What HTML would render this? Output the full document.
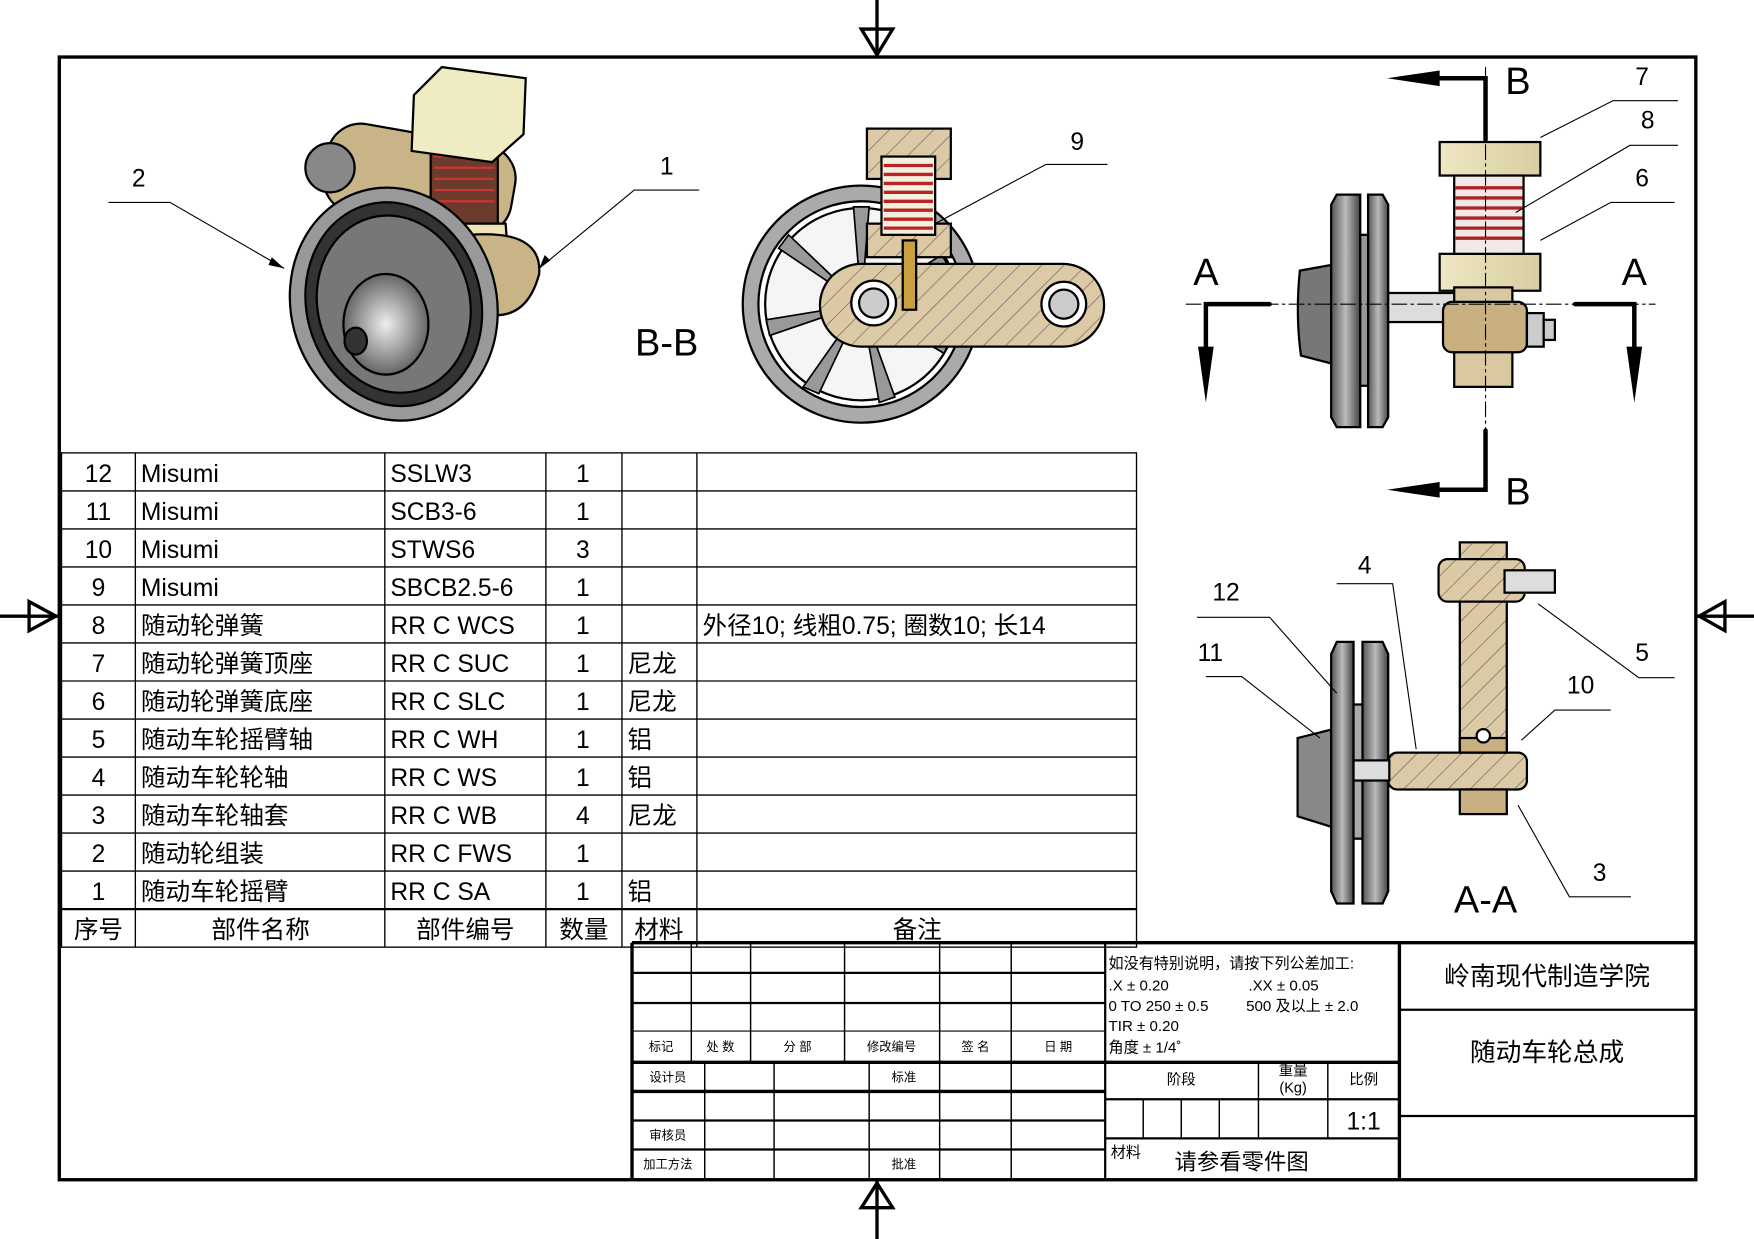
<!DOCTYPE html>
<html><head><meta charset="utf-8"><style>
html,body{margin:0;padding:0;background:#fff;}
svg{display:block;font-family:"Liberation Sans","Noto Sans CJK SC",sans-serif;}
</style></head><body>
<svg width="1754" height="1239" viewBox="0 0 1568 1108" preserveAspectRatio="none" xmlns="http://www.w3.org/2000/svg">
<defs>
<pattern id="h" width="14" height="14" patternUnits="userSpaceOnUse" patternTransform="rotate(45)">
<rect width="14" height="14" fill="#dcc9a6"/><line x1="0" y1="0" x2="0" y2="14" stroke="#555" stroke-width="1"/></pattern>
<linearGradient id="g1" x1="0" x2="1"><stop offset="0" stop-color="#555"/><stop offset=".5" stop-color="#bbb"/><stop offset="1" stop-color="#444"/></linearGradient>
<linearGradient id="g2" x1="0" x2="1"><stop offset="0" stop-color="#efe7c3"/><stop offset="1" stop-color="#d8cda0"/></linearGradient>
<radialGradient id="g3"><stop offset="0" stop-color="#eee"/><stop offset="1" stop-color="#666"/></radialGradient>
</defs>
<rect width="1568" height="1108" fill="#fff"/>
<!-- border -->
<rect x="53" y="51" width="1463" height="1004" fill="none" stroke="#000" stroke-width="3"/>
<!-- centering marks -->
<g stroke="#000" stroke-width="3" fill="none">
<line x1="784" y1="0" x2="784" y2="51"/><polygon points="770,26 798,26 784,49"/>
<line x1="784" y1="1055" x2="784" y2="1108"/><polygon points="770,1080 798,1080 784,1058"/>
<line x1="0" y1="551" x2="53" y2="551"/><polygon points="26,538 26,564 50,551"/>
<line x1="1516" y1="551" x2="1568" y2="551"/><polygon points="1542,538 1542,564 1519,551"/>
</g>

<!-- BOM table -->
<g stroke="#000" stroke-width="1.2" fill="none">
<rect x="55" y="405" width="961" height="442"/>
<line x1="55" y1="439" x2="1016" y2="439"/><line x1="55" y1="473" x2="1016" y2="473"/>
<line x1="55" y1="507" x2="1016" y2="507"/><line x1="55" y1="541" x2="1016" y2="541"/>
<line x1="55" y1="575" x2="1016" y2="575"/><line x1="55" y1="609" x2="1016" y2="609"/>
<line x1="55" y1="643" x2="1016" y2="643"/><line x1="55" y1="677" x2="1016" y2="677"/>
<line x1="55" y1="711" x2="1016" y2="711"/><line x1="55" y1="745" x2="1016" y2="745"/>
<line x1="55" y1="779" x2="1016" y2="779"/><line x1="55" y1="813" x2="1016" y2="813" stroke-width="2"/>
<line x1="121" y1="405" x2="121" y2="847"/><line x1="344" y1="405" x2="344" y2="847"/>
<line x1="488" y1="405" x2="488" y2="847"/><line x1="556" y1="405" x2="556" y2="847"/>
<line x1="623" y1="405" x2="623" y2="847"/>
</g>
<g font-size="22" fill="#000">
<g text-anchor="middle">
<text x="88" y="431">12</text><text x="88" y="465">11</text><text x="88" y="499">10</text><text x="88" y="533">9</text>
<text x="88" y="567">8</text><text x="88" y="601">7</text><text x="88" y="635">6</text><text x="88" y="669">5</text>
<text x="88" y="703">4</text><text x="88" y="737">3</text><text x="88" y="771">2</text><text x="88" y="805">1</text>
<text x="521" y="431">1</text><text x="521" y="465">1</text><text x="521" y="499">3</text><text x="521" y="533">1</text>
<text x="521" y="567">1</text><text x="521" y="601">1</text><text x="521" y="635">1</text><text x="521" y="669">1</text>
<text x="521" y="703">1</text><text x="521" y="737">4</text><text x="521" y="771">1</text><text x="521" y="805">1</text>
<text x="88" y="839">序号</text><text x="233" y="839">部件名称</text><text x="416" y="839">部件编号</text>
<text x="522" y="839">数量</text><text x="589" y="839">材料</text><text x="820" y="839">备注</text>
</g>
<text x="126" y="431">Misumi</text><text x="126" y="465">Misumi</text><text x="126" y="499">Misumi</text><text x="126" y="533">Misumi</text>
<text x="126" y="567">随动轮弹簧</text><text x="126" y="601">随动轮弹簧顶座</text><text x="126" y="635">随动轮弹簧底座</text>
<text x="126" y="669">随动车轮摇臂轴</text><text x="126" y="703">随动车轮轮轴</text><text x="126" y="737">随动车轮轴套</text>
<text x="126" y="771">随动轮组装</text><text x="126" y="805">随动车轮摇臂</text>
<text x="349" y="431">SSLW3</text><text x="349" y="465">SCB3-6</text><text x="349" y="499">STWS6</text><text x="349" y="533">SBCB2.5-6</text>
<text x="349" y="567">RR C WCS</text><text x="349" y="601">RR C SUC</text><text x="349" y="635">RR C SLC</text>
<text x="349" y="669">RR C WH</text><text x="349" y="703">RR C WS</text><text x="349" y="737">RR C WB</text>
<text x="349" y="771">RR C FWS</text><text x="349" y="805">RR C SA</text>
<text x="561" y="601">尼龙</text><text x="561" y="635">尼龙</text><text x="561" y="669">铝</text><text x="561" y="703">铝</text>
<text x="561" y="737">尼龙</text><text x="561" y="805">铝</text>
<text x="628" y="567">外径10; 线粗0.75; 圈数10; 长14</text>
</g>

<!-- title block -->
<g stroke="#000" fill="none">
<line x1="565" y1="843" x2="1516" y2="843" stroke-width="3"/>
<line x1="565" y1="843" x2="565" y2="1055" stroke-width="3"/>
<line x1="988" y1="843" x2="988" y2="1055" stroke-width="2"/>
<line x1="1251" y1="843" x2="1251" y2="1055" stroke-width="3"/>
<line x1="565" y1="870" x2="988" y2="870" stroke-width="2"/>
<line x1="565" y1="897" x2="988" y2="897" stroke-width="2"/>
<line x1="565" y1="922" x2="988" y2="922" stroke-width="1"/>
<line x1="565" y1="950" x2="1251" y2="950" stroke-width="3"/>
<line x1="565" y1="976" x2="988" y2="976" stroke-width="3"/>
<line x1="565" y1="1002" x2="988" y2="1002" stroke-width="2"/>
<line x1="565" y1="1028" x2="988" y2="1028" stroke-width="2"/>
<g stroke-width="1.3">
<line x1="618" y1="843" x2="618" y2="950"/><line x1="671" y1="843" x2="671" y2="950"/>
<line x1="755" y1="843" x2="755" y2="950"/><line x1="840" y1="843" x2="840" y2="950"/>
<line x1="904" y1="843" x2="904" y2="950"/>
<line x1="630" y1="950" x2="630" y2="1055"/><line x1="692" y1="950" x2="692" y2="1055"/>
<line x1="777" y1="950" x2="777" y2="1055"/><line x1="840" y1="950" x2="840" y2="1055"/>
<line x1="904" y1="950" x2="904" y2="1055"/>
<line x1="1125" y1="950" x2="1125" y2="1018"/><line x1="1187" y1="950" x2="1187" y2="1018"/>
<line x1="1022" y1="983" x2="1022" y2="1018"/><line x1="1056" y1="983" x2="1056" y2="1018"/><line x1="1090" y1="983" x2="1090" y2="1018"/>
</g>
<line x1="988" y1="983" x2="1251" y2="983" stroke-width="2"/>
<line x1="988" y1="1018" x2="1251" y2="1018" stroke-width="2"/>
<line x1="1251" y1="903" x2="1516" y2="903" stroke-width="2"/>
<line x1="1251" y1="998" x2="1516" y2="998" stroke-width="2"/>
</g>
<g font-size="11" fill="#000" text-anchor="middle">
<text x="591" y="940">标记</text><text x="644" y="940">处 数</text><text x="713" y="940">分 部</text>
<text x="797" y="940">修改编号</text><text x="872" y="940">签 名</text><text x="946" y="940">日 期</text>
<text x="597" y="967">设计员</text><text x="808" y="967">标准</text>
<text x="597" y="1019">审核员</text><text x="597" y="1045">加工方法</text><text x="808" y="1045">批准</text>
<text x="1056" y="970" font-size="13">阶段</text><text x="1156" y="962" font-size="13">重量</text>
<text x="1156" y="977" font-size="13">(Kg)</text><text x="1219" y="970" font-size="13">比例</text>
</g>
<g font-size="13.5" fill="#000">
<text x="991" y="866">如没有特别说明，请按下列公差加工:</text>
<text x="991" y="886">.X ± 0.20</text><text x="1116" y="886">.XX ± 0.05</text>
<text x="991" y="904">0 TO 250 ± 0.5</text><text x="1114" y="904">500 及以上 ± 2.0</text>
<text x="991" y="922">TIR ± 0.20</text><text x="991" y="941">角度 ± 1/4˚</text>
<text x="993" y="1035">材料</text>
</g>
<text x="1050" y="1046" font-size="20">请参看零件图</text>
<text x="1219" y="1010" font-size="22" text-anchor="middle">1:1</text>
<text x="1383" y="881" font-size="23" text-anchor="middle">岭南现代制造学院</text>
<text x="1383" y="949" font-size="23" text-anchor="middle">随动车轮总成</text>

<!-- isometric view -->
<g stroke="#000" stroke-width="2">
<rect x="290" y="120" width="170" height="80" rx="30" fill="#c9b488" transform="rotate(10 375 160)"/>
<circle cx="295" cy="150" r="22" fill="#888"/>
<rect x="385" y="130" width="60" height="70" fill="#6d3b2b"/>
<g stroke="#c33" stroke-width="2"><line x1="388" y1="140" x2="442" y2="140"/><line x1="388" y1="150" x2="442" y2="150"/><line x1="388" y1="160" x2="442" y2="160"/><line x1="388" y1="170" x2="442" y2="170"/><line x1="388" y1="180" x2="442" y2="180"/></g>
<path d="M378 200 L452 200 L455 240 L375 240Z" fill="#efe3b8"/>
<path d="M420 210 Q485 205 482 245 Q470 290 430 280Z" fill="#c9b488"/>
<path d="M370 85 L395 60 L470 70 L468 120 L440 145 L368 135Z" fill="#efebc2"/>
<ellipse cx="352" cy="272" rx="92" ry="105" fill="#999" transform="rotate(-15 352 272)"/>
<ellipse cx="352" cy="272" rx="78" ry="92" fill="#333" transform="rotate(-15 352 272)"/>
<ellipse cx="352" cy="272" rx="68" ry="80" fill="#777" transform="rotate(-15 352 272)"/>
<ellipse cx="345" cy="290" rx="38" ry="45" fill="url(#g3)"/>
<ellipse cx="318" cy="305" rx="10" ry="12" fill="#333"/>
</g>
<g stroke="#000" stroke-width="1" fill="none">
<polyline points="97,181 152,181 254,240"/><polyline points="625,170 567,170 482,240"/>
</g>
<polygon points="254,240 243,230 240,237" fill="#000"/><polygon points="482,240 487,228 492,233" fill="#000"/>
<text x="124" y="167" font-size="22" text-anchor="middle">2</text>
<text x="596" y="156" font-size="22" text-anchor="middle">1</text>

<!-- B-B view -->
<g stroke="#000" stroke-width="2">
<circle cx="770" cy="272" r="106" fill="#aaa"/>
<circle cx="770" cy="272" r="92" fill="#fff"/>
<circle cx="770" cy="272" r="86" fill="#ddd" fill-opacity="0.3"/>
<g fill="#999" stroke-width="1.5">
<polygon points="770,272 763,185 777,185"/><polygon points="770,272 842,228 850,242"/>
<polygon points="770,272 850,302 844,316"/><polygon points="770,272 800,355 786,360"/>
<polygon points="770,272 732,352 718,346"/><polygon points="770,272 688,300 685,286"/>
<polygon points="770,272 696,222 705,210"/>
</g>
<path d="M770 236 L950 236 A37 37 0 0 1 950 310 L770 310 A37 37 0 0 1 770 236Z" fill="url(#h)"/>
<circle cx="781" cy="271" r="20" fill="#fff"/><circle cx="781" cy="271" r="13" fill="#ccc"/>
<circle cx="951" cy="272" r="20" fill="#fff"/><circle cx="951" cy="272" r="13" fill="#ccc"/>
<rect x="775" y="115" width="75" height="45" fill="url(#h)"/>
<rect x="775" y="200" width="75" height="30" fill="url(#h)"/>
<rect x="788" y="140" width="48" height="70" fill="#f4f0e0"/>
<rect x="807" y="215" width="12" height="62" fill="#c9a040"/>
</g>
<g stroke="#b22" stroke-width="3">
<line x1="790" y1="148" x2="834" y2="148"/><line x1="790" y1="156" x2="834" y2="156"/><line x1="790" y1="164" x2="834" y2="164"/>
<line x1="790" y1="172" x2="834" y2="172"/><line x1="790" y1="180" x2="834" y2="180"/><line x1="790" y1="188" x2="834" y2="188"/>
<line x1="790" y1="196" x2="834" y2="196"/><line x1="790" y1="204" x2="834" y2="204"/>
</g>
<polyline points="990,147 935,147 836,200" stroke="#000" fill="none"/>
<text x="963" y="134" font-size="22" text-anchor="middle">9</text>
<text x="596" y="318" font-size="34" text-anchor="middle">B-B</text>

<!-- top-right view -->
<g stroke="#000" stroke-width="2">
<path d="M1162 242 L1190 237 L1190 325 L1163 318 Q1158 282 1162 242Z" fill="#777"/>
<path d="M1190 183 L1195 174 L1216 174 L1216 382 L1195 382 L1190 373Z" fill="url(#g1)"/>
<path d="M1223 174 L1236 174 L1241 183 L1241 373 L1236 382 L1223 382Z" fill="url(#g1)"/>
<rect x1="0" x="1216" y="210" width="7" height="135" fill="#999"/>
<rect x="1241" y="262" width="60" height="26" fill="#ddd"/>
<rect x="1287" y="127" width="90" height="30" fill="url(#g2)"/>
<rect x="1287" y="227" width="90" height="33" fill="url(#g2)"/>
<rect x="1300" y="157" width="62" height="70" fill="#f2e8e8"/>
<path d="M1300 257 L1352 257 L1352 346 L1300 346Z" fill="#d9c8a0"/>
<rect x="1290" y="270" width="75" height="45" fill="#c9b080" rx="8"/>
<rect x="1365" y="280" width="15" height="30" fill="#ccc"/>
<rect x="1380" y="286" width="10" height="18" fill="#ccc"/>
</g>
<g stroke="#a22" stroke-width="3">
<line x1="1301" y1="168" x2="1361" y2="168"/><line x1="1301" y1="177" x2="1361" y2="177"/><line x1="1301" y1="186" x2="1361" y2="186"/>
<line x1="1301" y1="195" x2="1361" y2="195"/><line x1="1301" y1="204" x2="1361" y2="204"/><line x1="1301" y1="213" x2="1361" y2="213"/>
</g>
<g stroke="#000" stroke-width="1" stroke-dasharray="14 3 3 3" fill="none">
<line x1="1328" y1="60" x2="1328" y2="440"/><line x1="1060" y1="272" x2="1480" y2="272"/>
</g>
<g stroke="#000" stroke-width="4" fill="none" stroke-linecap="round">
<polyline points="1285,70 1328,70 1328,125"/><polyline points="1285,438 1328,438 1328,385"/>
<polyline points="1135,272 1078,272 1078,330"/><polyline points="1408,272 1461,272 1461,330"/>
</g>
<g fill="#000">
<polygon points="1240,70 1287,63 1287,77"/><polygon points="1240,438 1287,431 1287,445"/>
<polygon points="1078,360 1071,310 1085,310"/><polygon points="1461,360 1454,310 1468,310"/>
</g>
<g font-size="34" text-anchor="middle">
<text x="1357" y="84">B</text><text x="1357" y="451">B</text><text x="1078" y="255">A</text><text x="1461" y="255">A</text>
</g>
<g stroke="#000" stroke-width="1" fill="none">
<polyline points="1500,90 1442,90 1377,123"/><polyline points="1500,130 1457,130 1355,190"/><polyline points="1497,181 1440,181 1377,215"/>
</g>
<g font-size="22" text-anchor="middle"><text x="1468" y="76">7</text><text x="1473" y="115">8</text><text x="1468" y="167">6</text></g>

<!-- A-A view -->
<g stroke="#000" stroke-width="2">
<path d="M1160 660 L1192 652 L1192 740 L1160 730Z" fill="#888"/>
<path d="M1190 585 L1195 574 L1210 574 L1210 808 L1195 808 L1190 797Z" fill="url(#g1)"/>
<path d="M1218 574 L1236 574 L1241 585 L1241 797 L1236 808 L1218 808Z" fill="url(#g1)"/>
<rect x="1210" y="630" width="8" height="120" fill="#aaa"/>
<rect x="1305" y="485" width="42" height="200" fill="url(#h)"/>
<rect x="1286" y="500" width="77" height="38" rx="8" fill="url(#h)"/>
<rect x="1345" y="510" width="45" height="20" fill="#ddd"/>
<rect x="1241" y="673" width="124" height="33" rx="8" fill="url(#h)"/>
<rect x="1210" y="680" width="32" height="18" fill="#ddd"/>
<rect x="1305" y="660" width="42" height="13" fill="#c9b080"/>
<rect x="1305" y="706" width="42" height="22" fill="#c9b080"/>
<circle cx="1326" cy="658" r="6" fill="#fff"/>
</g>
<g stroke="#000" stroke-width="1" fill="none">
<polyline points="1070,552 1135,552 1195,620"/><polyline points="1078,605 1110,605 1180,660"/>
<polyline points="1195,522 1245,522 1266,670"/><polyline points="1497,606 1465,606 1375,540"/>
<polyline points="1440,635 1390,635 1360,662"/><polyline points="1458,802 1403,802 1357,720"/>
</g>
<g font-size="22" text-anchor="middle">
<text x="1096" y="537">12</text><text x="1082" y="591">11</text><text x="1220" y="513">4</text>
<text x="1468" y="591">5</text><text x="1413" y="620">10</text><text x="1430" y="788">3</text>
</g>
<text x="1328" y="816" font-size="34" text-anchor="middle">A-A</text>
</svg>
</body></html>
